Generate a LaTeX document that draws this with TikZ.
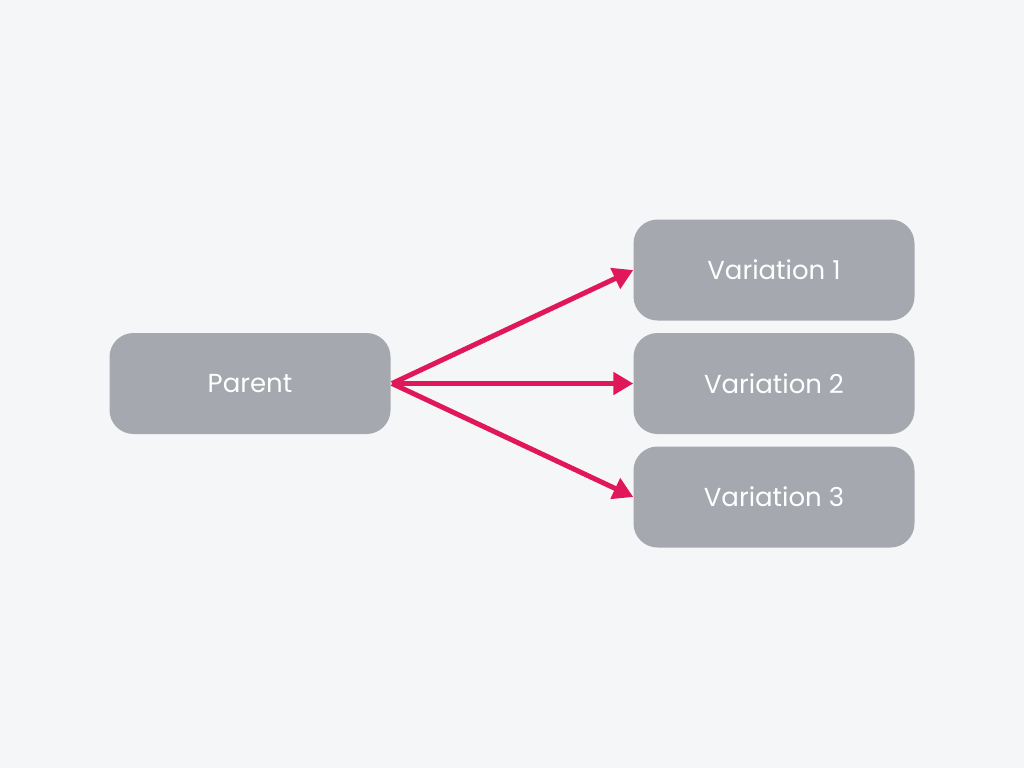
\documentclass[tikz,border=0pt]{standalone}
\usepackage{fontspec}
\setmainfont{Poppins}
\usetikzlibrary{arrows.meta}
\definecolor{bgcol}{HTML}{F5F6F8}
\definecolor{boxcol}{HTML}{A6A8AF}
\definecolor{arrcol}{HTML}{E0185A}

\begin{document}
\begin{tikzpicture}[x=1pt,y=-1pt,
  box/.style={fill=boxcol,rounded corners=24pt,minimum width=281pt,minimum height=101pt,text=white,font=\fontsize{26}{30}\selectfont},
  link/.style={draw=arrcol,line width=5pt,-{Triangle[length=20pt,width=22pt]}}]
\fill[bgcol] (0,0) rectangle (1024,768);
\useasboundingbox (0,0) rectangle (1024,768);
\node[box] (parent) at (250,383.5) {Parent};
\foreach \n/\y in {1/270,2/383.5,3/497} {
   \node[box] (var\n) at (774,\y) {Variation \n};
}
\coordinate (src) at (392,383.5);
\foreach \n in {1,2,3} {
   \draw[link] (src) -- (var\n.west);
}
\end{tikzpicture}
\end{document}
